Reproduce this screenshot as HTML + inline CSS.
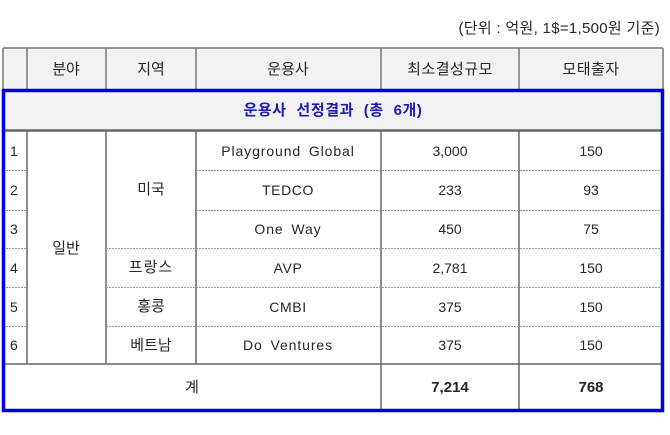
<!DOCTYPE html>
<html><head><meta charset="utf-8"><style>
html,body{margin:0;padding:0;background:#fff;}
svg{display:block;}
text{font-family:"Liberation Sans","Noto Sans CJK KR",sans-serif;font-size:14px;fill:#262626;}
.k{font-size:15px;}
.b{font-weight:bold;}
</style></head><body>
<svg width="670" height="435" viewBox="0 0 670 435" xmlns="http://www.w3.org/2000/svg">
<rect x="0" y="0" width="670" height="435" fill="#fff"/>
<text x="660" y="33" text-anchor="end" style="font-size:15px;letter-spacing:0.3px">(단위 : 억원, 1$=1,500원 기준)</text>
<!-- backgrounds -->
<rect x="3" y="48" width="660" height="82" fill="#f2f2f2"/>
<!-- header lines -->
<g stroke="#777" stroke-width="1.5" fill="none">
<line x1="3" y1="48" x2="663" y2="48"/>
<line x1="3" y1="48" x2="3" y2="410"/>
<line x1="663" y1="48" x2="663" y2="410"/>
<line x1="27" y1="48" x2="27" y2="89"/>
<line x1="106" y1="48" x2="106" y2="89"/>
<line x1="196" y1="48" x2="196" y2="89"/>
<line x1="381" y1="48" x2="381" y2="89"/>
<line x1="519" y1="48" x2="519" y2="89"/>
</g>
<line x1="3" y1="130.5" x2="663" y2="130.5" stroke="#666" stroke-width="2.5"/>
<g stroke="#666" stroke-width="1.5">
<line x1="27" y1="131" x2="27" y2="364"/>
<line x1="106" y1="131" x2="106" y2="364"/>
<line x1="196" y1="131" x2="196" y2="364"/>
<line x1="381" y1="131" x2="381" y2="410"/>
<line x1="519" y1="131" x2="519" y2="410"/>
<line x1="3" y1="364" x2="663" y2="364"/>
</g>
<g stroke="#999" stroke-width="1" stroke-dasharray="2,1">
<line x1="3" y1="170.5" x2="27" y2="170.5"/>
<line x1="196" y1="170.5" x2="663" y2="170.5"/>
<line x1="3" y1="210.5" x2="27" y2="210.5"/>
<line x1="196" y1="210.5" x2="663" y2="210.5"/>
<line x1="3" y1="248.5" x2="27" y2="248.5"/>
<line x1="106" y1="248.5" x2="663" y2="248.5"/>
<line x1="3" y1="287.5" x2="27" y2="287.5"/>
<line x1="106" y1="287.5" x2="663" y2="287.5"/>
<line x1="3" y1="326.5" x2="27" y2="326.5"/>
<line x1="106" y1="326.5" x2="663" y2="326.5"/>
</g>
<!-- blue box -->
<rect x="3.5" y="90.5" width="659" height="320" fill="none" stroke="#0000e0" stroke-width="3.5"/>
<!-- header text -->
<g text-anchor="middle">
<text x="66" y="74" class="k">분야</text>
<text x="151" y="74" class="k">지역</text>
<text x="288" y="74" class="k">운용사</text>
<text x="450" y="74" class="k" style="letter-spacing:0.5px">최소결성규모</text>
<text x="591" y="74" class="k" style="letter-spacing:0.5px">모태출자</text>
<text x="333" y="115" class="b" style="font-size:15px;fill:#1c1cb4;letter-spacing:0.6px;word-spacing:5px">운용사 선정결과 (총 6개)</text>
<text x="66" y="253" class="k">일반</text>
<text x="151" y="194" class="k">미국</text>
<text x="151" y="272" class="k" style="letter-spacing:1px">프랑스</text>
<text x="151" y="311" class="k">홍콩</text>
<text x="151" y="350" class="k">베트남</text>
<text x="288" y="156" style="letter-spacing:0.9px;word-spacing:3px">Playground Global</text>
<text x="288" y="195" style="letter-spacing:0.6px">TEDCO</text>
<text x="288" y="234" style="letter-spacing:0.9px;word-spacing:3px">One Way</text>
<text x="288" y="273" style="letter-spacing:0.6px">AVP</text>
<text x="288" y="312" style="letter-spacing:0.6px">CMBI</text>
<text x="288" y="350" style="letter-spacing:0.9px;word-spacing:3px">Do Ventures</text>
<text x="450" y="156">3,000</text>
<text x="450" y="195">233</text>
<text x="450" y="234">450</text>
<text x="450" y="273">2,781</text>
<text x="450" y="312">375</text>
<text x="450" y="350">375</text>
<text x="591" y="156">150</text>
<text x="591" y="195">93</text>
<text x="591" y="234">75</text>
<text x="591" y="273">150</text>
<text x="591" y="312">150</text>
<text x="591" y="350">150</text>
<text x="192" y="392" class="k">계</text>
<text x="450" y="392" class="b" style="font-size:15px">7,214</text>
<text x="591" y="392" class="b" style="font-size:15px">768</text>
</g>
<g>
<text x="10" y="156">1</text>
<text x="10" y="195">2</text>
<text x="10" y="234">3</text>
<text x="10" y="273">4</text>
<text x="10" y="312">5</text>
<text x="10" y="350">6</text>
</g>
</svg>
</body></html>
